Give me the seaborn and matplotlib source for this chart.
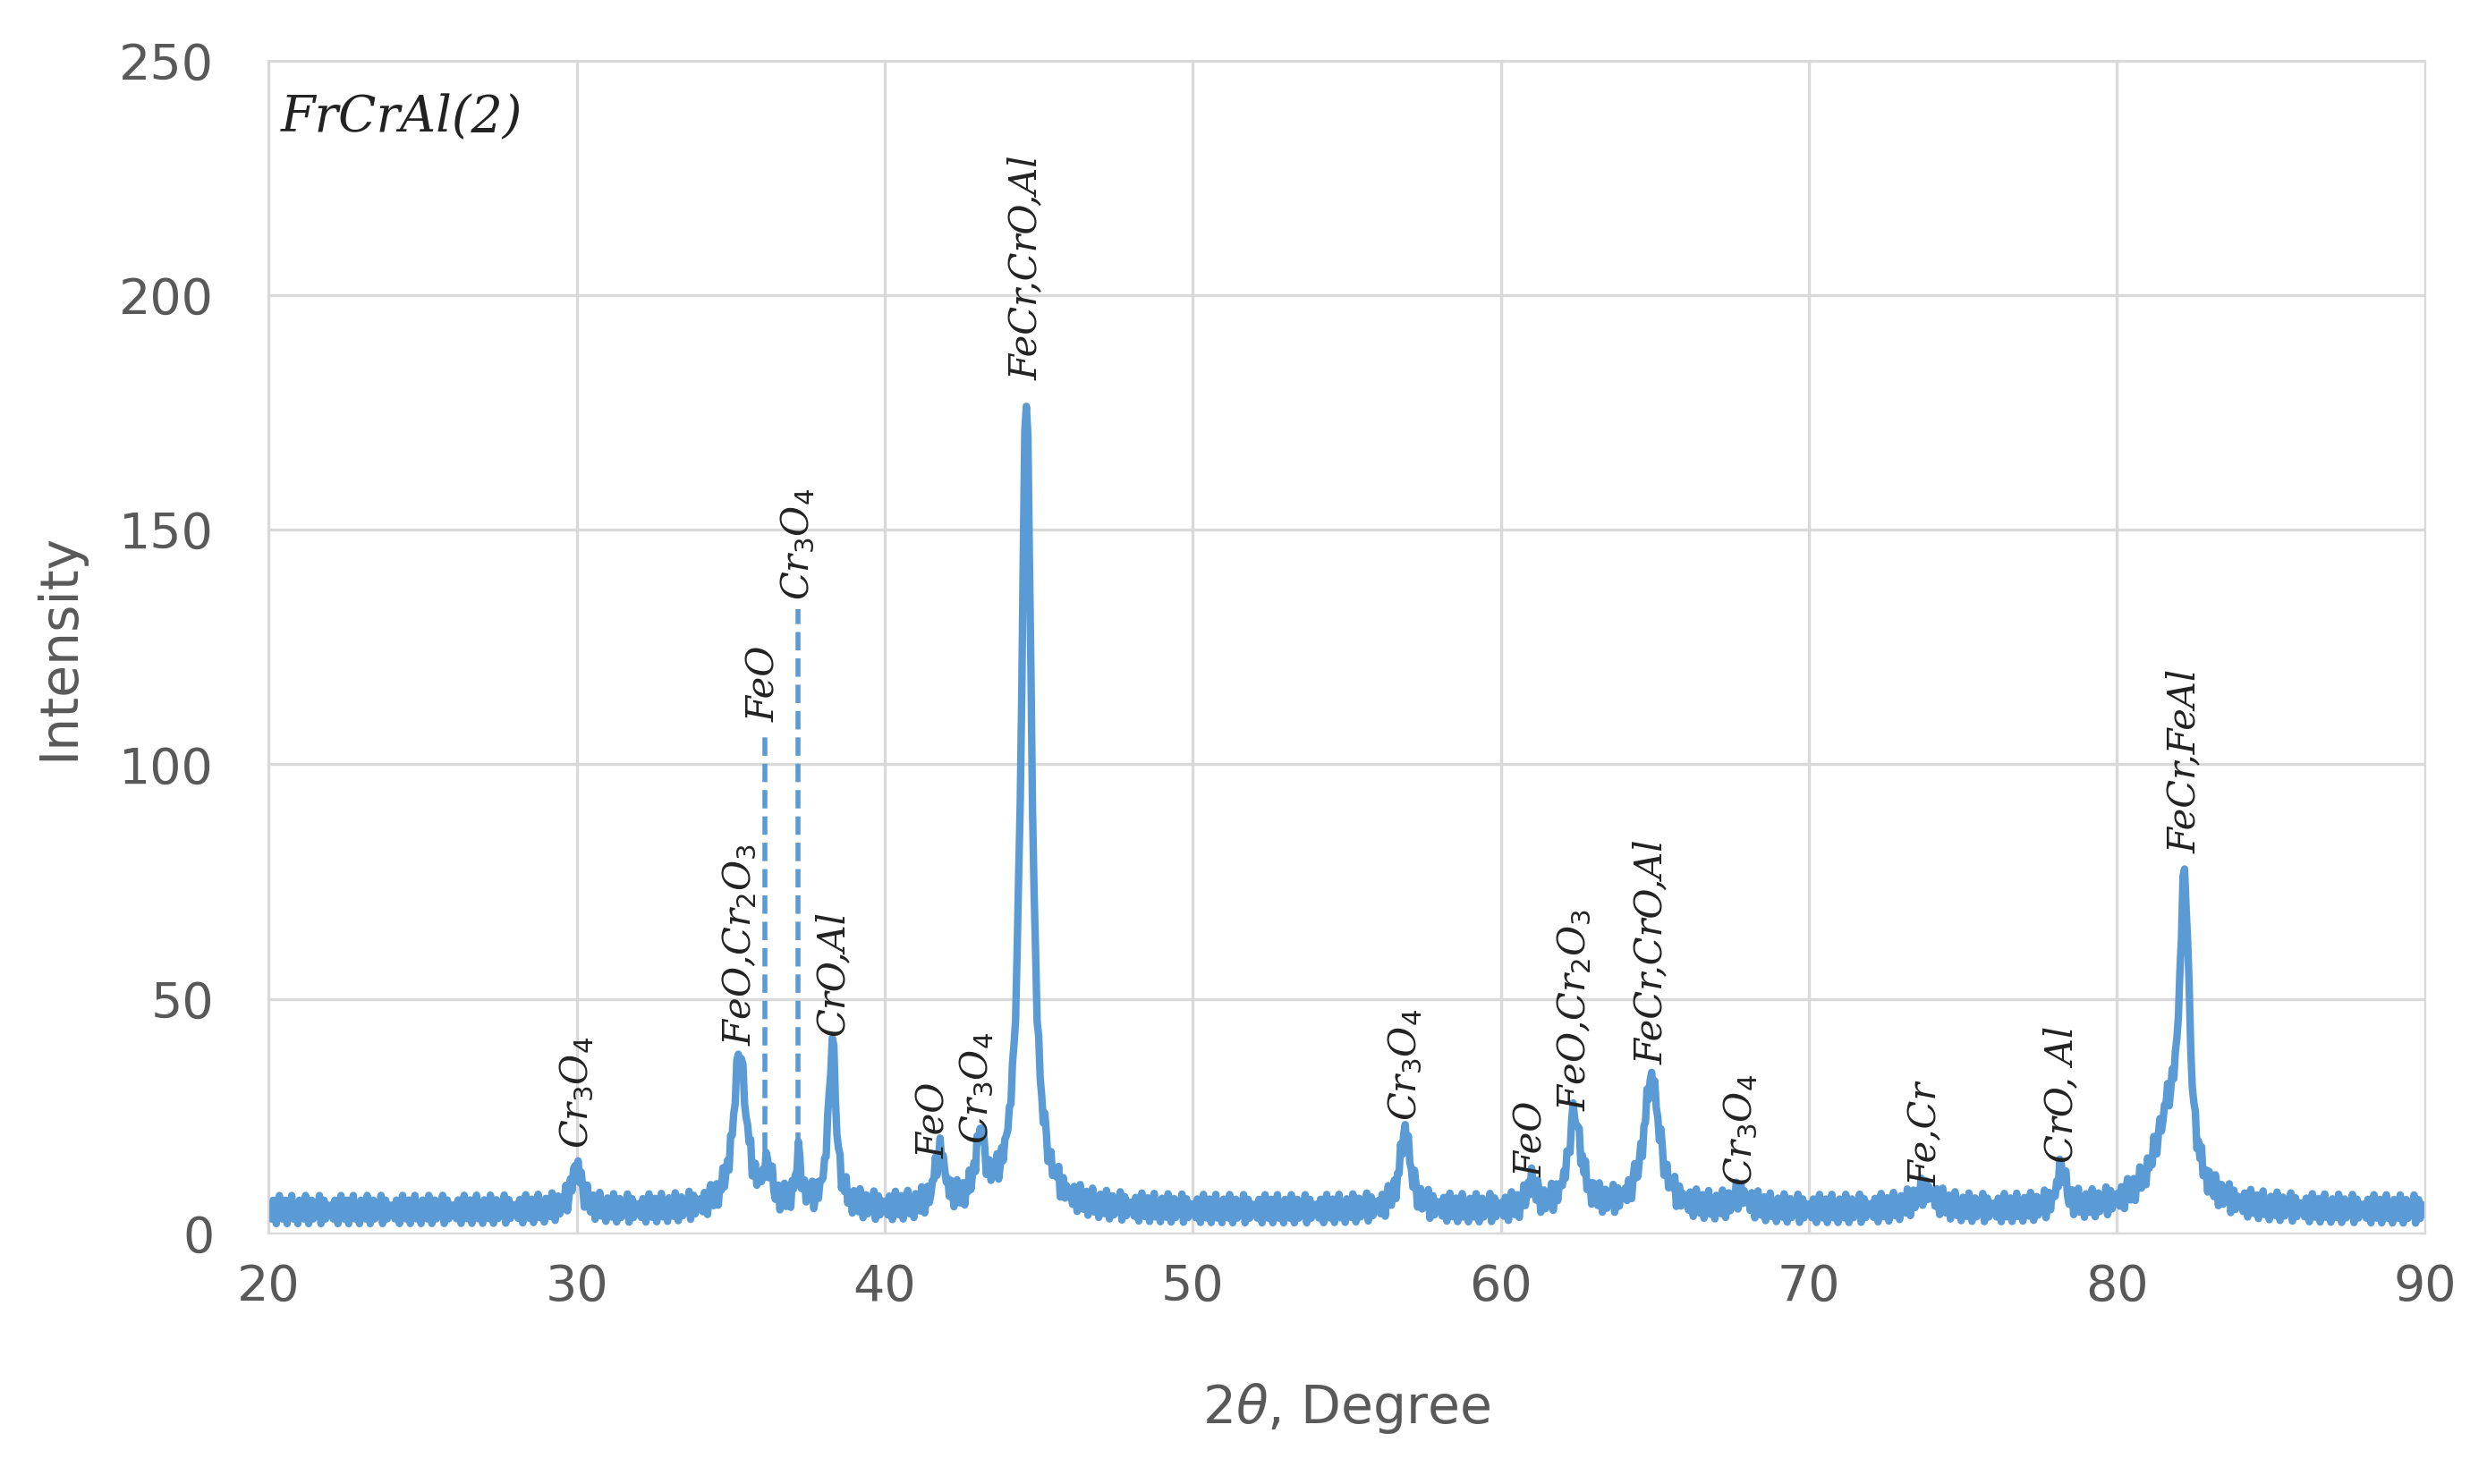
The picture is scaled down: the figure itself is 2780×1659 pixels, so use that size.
import numpy as np
import pandas as pd
import matplotlib
matplotlib.use("Agg")
import matplotlib.pyplot as plt
import seaborn as sns

# peaks: position (2theta), height above baseline, half width
peak_pos = [30.0, 35.3, 36.2, 37.2, 38.3, 41.8, 43.1, 44.6, 56.9, 61.0, 62.4, 64.9, 67.8, 73.8, 78.2, 81.7, 82.2]
peak_h = [10, 33, 8, 10, 35, 12, 14, 174, 17, 6, 20, 28, 3, 4, 9, 18, 62]
peak_w = [0.18, 0.25, 0.15, 0.12, 0.15, 0.18, 0.18, 0.2, 0.2, 0.15, 0.25, 0.3, 0.3, 0.4, 0.15, 0.6, 0.18]

# hand-typed baseline noise pattern (counts), repeated along the scan
noise = [4, 6, 3, 7, 5, 2, 6, 8, 4, 3, 5, 7, 2, 6, 4, 8, 3, 5, 6, 2,
         7, 4, 5, 3, 8, 6, 2, 5, 7, 3, 4, 6, 5, 8, 2, 4, 7, 3, 6, 5]

# dashed markers and labels
dash_x = [36.1, 37.2]
dash_top = [107, 133]
labels = [
    (30.0, 18, r"Cr$_3$O$_4$"), (35.3, 40, r"FeO,Cr$_2$O$_3$"), (36.1, 109, "FeO"),
    (37.2, 135, r"Cr$_3$O$_4$"), (38.3, 42, "CrO,Al"), (41.6, 16, "FeO"),
    (43.0, 19, r"Cr$_3$O$_4$"), (44.6, 182, "FeCr,CrO,Al"), (56.9, 24, r"Cr$_3$O$_4$"),
    (61.0, 12, "FeO"), (62.4, 26, r"FeO,Cr$_2$O$_3$"), (64.9, 36, "FeCr,CrO,Al"),
    (67.8, 10, r"Cr$_3$O$_4$"), (73.8, 10, "Fe,Cr"), (78.2, 15, "CrO, Al"),
    (82.2, 81, "FeCr,FeAl"),
]

x = np.arange(20, 90.001, 0.05)
base = np.resize(np.array(noise, dtype=float), x.size)
y = base.copy()
for p, h, w in zip(peak_pos, peak_h, peak_w):
    y += h / (1 + ((x - p) / w) ** 2)
df = pd.DataFrame({"two_theta": x, "intensity": y})

sns.set_style("white")
fig = plt.figure(figsize=(13.9, 8.295), dpi=200)
ax = fig.add_axes([0.108, 0.169, 0.867, 0.79])
sns.lineplot(data=df, x="two_theta", y="intensity", ax=ax, color="#5B9BD5", linewidth=3)
for dx, dt in zip(dash_x, dash_top):
    ax.plot([dx, dx], [12, dt], ls="--", color="#5B9BD5", lw=2)
for lx, ly, txt in labels:
    ax.text(lx, ly, txt, rotation=90, ha="center", va="bottom", fontsize=15,
            family="DejaVu Serif", style="italic", color="#222222")
ax.text(20.4, 243, "FrCrAl(2)", fontsize=20, family="DejaVu Serif", style="italic",
        va="top", color="#222222")

ax.set_xlim(20, 90)
ax.set_ylim(0, 250)
ax.set_xticks(range(20, 91, 10))
ax.set_yticks(range(0, 251, 50))
ax.grid(True, color="#d9d9d9", lw=1.2)
for s in ax.spines.values():
    s.set_color("#d9d9d9")
ax.tick_params(labelsize=20, colors="#595959", length=0)
ax.tick_params(axis="y", pad=22)
ax.tick_params(axis="x", pad=12)
ax.set_xlabel(r"2$\theta$, Degree", fontsize=21, color="#595959", labelpad=28)
ax.set_ylabel("Intensity", fontsize=21, color="#595959", labelpad=14)
fig.savefig("out.png", dpi=200)
